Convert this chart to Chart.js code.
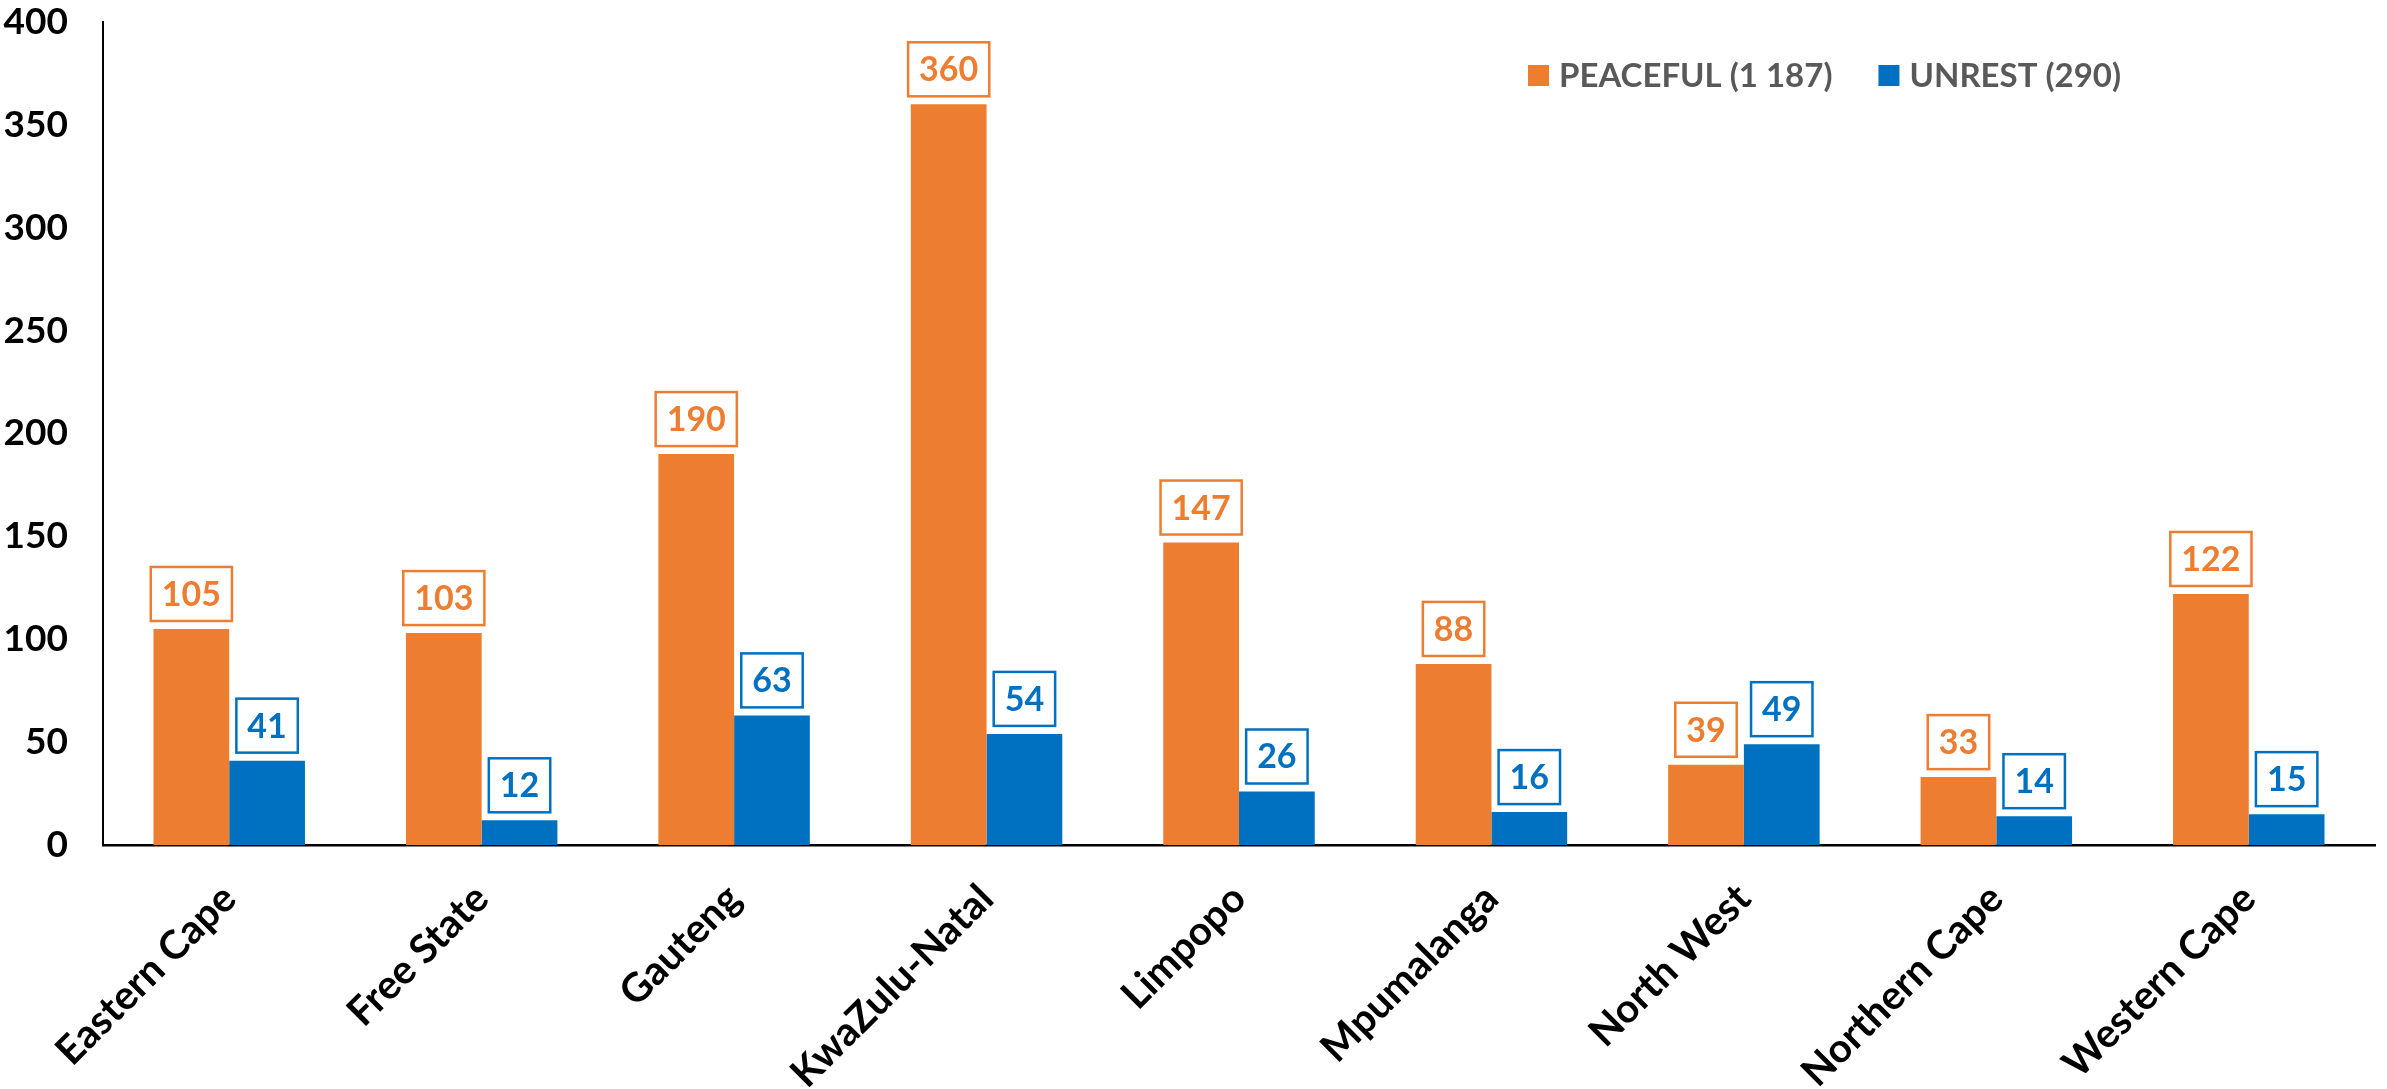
<!DOCTYPE html>
<html>
<head>
<meta charset="utf-8">
<title>Peaceful vs unrest by province</title>
<script src="https://cdn.jsdelivr.net/npm/chart.js@4.4.1/dist/chart.umd.min.js"></script>
<style>
  html, body { margin: 0; padding: 0; background: #fff; }
  #wrap { width: 2387px; height: 1089px; }
</style>
</head>
<body>
<div id="wrap"><canvas id="chart" width="2387" height="1089"></canvas></div>
<script>
const categories = ['Eastern Cape', 'Free State', 'Gauteng', 'KwaZulu-Natal', 'Limpopo',
  'Mpumalanga', 'North West', 'Northern Cape', 'Western Cape'];
const peaceful = [105, 103, 190, 360, 147, 88, 39, 33, 122];
const unrest = [41, 12, 63, 54, 26, 16, 49, 14, 15];
const seriesNames = ['PEACEFUL (1 187)', 'UNREST (290)'];
const yMin = 0, yMax = 400, yStep = 50;

const ORANGE = '#ED7D31';
const BLUE = '#0070C0';
const FONT = 'Lato, "Open Sans", sans-serif';

// boxed value labels above each bar
const boxLabels = {
  id: 'boxLabels',
  afterDatasetsDraw(chart) {
    const ctx = chart.ctx;
    ctx.save();
    ctx.font = 'bold 34px ' + FONT;
    ctx.textAlign = 'center';
    ctx.textBaseline = 'middle';
    chart.data.datasets.forEach((ds, i) => {
      const meta = chart.getDatasetMeta(i);
      meta.data.forEach((bar, j) => {
        const txt = String(ds.data[j]);
        const w = ctx.measureText(txt).width + 22;
        const h = 54;
        const bx = bar.x - w / 2;
        const by = bar.y - 8 - h;
        ctx.fillStyle = '#fff';
        ctx.fillRect(bx, by, w, h);
        ctx.strokeStyle = ds.backgroundColor;
        ctx.lineWidth = 2.5;
        ctx.strokeRect(bx, by, w, h);
        ctx.fillStyle = ds.backgroundColor;
        ctx.fillText(txt, bar.x, by + h / 2 + 1);
      });
    });
    ctx.restore();
  }
};

// legend drawn inside the plot, top right
const insideLegend = {
  id: 'insideLegend',
  afterDraw(chart) {
    const ctx = chart.ctx;
    ctx.save();
    ctx.font = 'bold 33px ' + FONT;
    ctx.textBaseline = 'middle';
    ctx.textAlign = 'left';
    let x = 1528;
    const y = 75;
    chart.data.datasets.forEach(ds => {
      ctx.fillStyle = ds.backgroundColor;
      ctx.fillRect(x, y - 10, 21, 21);
      ctx.fillStyle = '#595959';
      ctx.fillText(ds.label, x + 31, y + 1);
      x += 31 + ctx.measureText(ds.label).width + 46;
    });
    ctx.restore();
  }
};

new Chart(document.getElementById('chart').getContext('2d'), {
  type: 'bar',
  data: {
    labels: categories,
    datasets: [
      { label: seriesNames[0], data: peaceful, backgroundColor: ORANGE },
      { label: seriesNames[1], data: unrest, backgroundColor: BLUE }
    ]
  },
  options: {
    responsive: false,
    animation: false,
    devicePixelRatio: 1,
    layout: { padding: { top: 22, right: 12, bottom: 0, left: 0 } },
    datasets: { bar: { categoryPercentage: 0.6, barPercentage: 1.0 } },
    plugins: {
      legend: { display: false },
      tooltip: { enabled: false }
    },
    scales: {
      x: {
        grid: { display: false, drawTicks: false },
        border: { display: true, color: '#000', width: 2.5 },
        ticks: {
          color: '#000',
          font: { family: FONT, size: 40, weight: 'bold' },
          minRotation: 45, maxRotation: 45,
          padding: 30,
          autoSkip: false
        },
        afterFit(s) { s.height = 244; }
      },
      y: {
        min: yMin, max: yMax,
        grid: { display: false, drawTicks: false },
        border: { display: true, color: '#000', width: 2 },
        ticks: {
          stepSize: yStep,
          color: '#000',
          font: { family: FONT, size: 37, weight: 'bold' },
          padding: 35
        },
        afterFit(s) { s.width = 103; s.paddingTop = 0; }
      }
    }
  },
  plugins: [boxLabels, insideLegend]
});
</script>
</body>
</html>
